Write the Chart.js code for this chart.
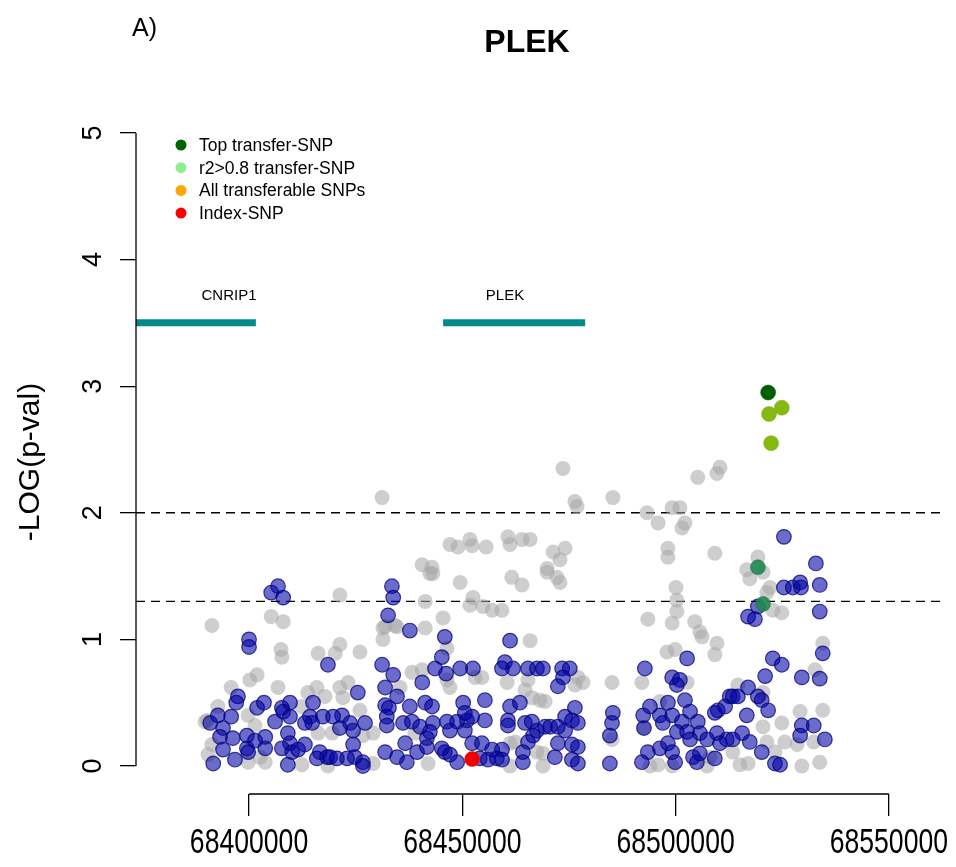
<!DOCTYPE html>
<html>
<head>
<meta charset="utf-8">
<title>PLEK</title>
<script src="https://cdn.jsdelivr.net/npm/chart.js@4.4.1/dist/chart.umd.min.js"></script>
<style>
  body { margin: 0; background: #fff; }
  canvas { display: block; }
</style>
</head>
<body>
<canvas id="plot" width="956" height="867"></canvas>
<script>
// ---- data (positions in kb, values are -log10 p) ----
const graySnps = [
  [68391.3,1.11],[68405.2,1.18],[68408.0,1.14],[68407.5,0.92],[68407.7,0.86],[68416.2,0.89],
  [68400.2,0.68],[68401.9,0.72],[68395.8,0.62],[68406.8,0.62],[68413.8,0.58],[68415.9,0.62],
  [68417.8,0.55],[68389.7,0.35],[68392.7,0.47],[68399.8,0.40],[68401.4,0.32],[68412.4,0.47],
  [68391.3,0.17],[68390.4,0.09],[68402.6,0.07],[68399.8,0.03],[68403.8,0.03],[68412.4,0.01],
  [68416.2,0.26],[68418.5,0.00],[68390.2,0.36],
  [68421.3,1.35],[68441.3,1.30],[68431.4,1.09],[68434.7,1.10],[68431.4,1.00],[68441.3,1.09],
  [68445.5,1.17],[68421.3,0.96],[68420.2,0.89],[68426.0,0.90],[68446.4,0.93],[68449.5,1.45],
  [68442.4,1.52],[68438.2,0.74],[68440.6,0.76],[68446.4,0.68],[68447.1,0.62],[68421.3,0.62],
  [68423.2,0.66],[68422.0,0.54],[68435.4,0.62],[68426.0,0.44],[68429.1,0.26],[68438.9,0.26],
  [68426.7,0.24],[68419.5,0.26],[68429.1,0.02],[68442.0,0.02],
  [68431.2,2.12],[68473.6,2.35],[68476.4,2.09],[68476.9,2.05],[68485.3,2.12],
  [68447.1,1.75],[68449.0,1.73],[68451.8,1.79],[68452.3,1.74],[68455.6,1.73],[68460.7,1.81],
  [68461.2,1.75],[68464.0,1.79],[68465.9,1.79],[68471.3,1.69],[68474.1,1.72],[68472.9,1.63],
  [68440.6,1.59],[68442.9,1.57],[68443.1,1.52],[68461.6,1.49],[68464.0,1.43],[68469.9,1.56],
  [68472.2,1.49],[68472.9,1.45],[68452.5,1.33],[68451.8,1.27],[68454.8,1.26],[68457.0,1.23],
  [68459.3,1.23],[68431.9,1.10],[68434.2,1.11],[68469.9,1.53],
  [68465.9,0.99],[68453.0,0.70],[68454.6,0.70],[68460.5,0.66],[68465.4,0.68],[68464.7,0.60],
  [68466.3,0.54],[68468.2,0.52],[68469.4,0.51],[68476.4,0.64],[68477.1,0.70],[68461.2,0.18],
  [68462.4,0.19],[68467.5,0.11],[68468.9,0.10],[68468.9,0.00],[68461.2,0.00],[68478.3,0.66],
  [68500.1,1.41],[68500.3,1.31],[68500.3,1.22],[68499.2,1.13],[68493.5,1.16],[68504.5,1.14],
  [68505.7,1.06],[68506.2,1.02],[68509.7,0.97],[68509.2,0.88],[68498.0,0.90],[68499.9,0.92],
  [68485.1,0.66],[68492.1,0.66],[68502.7,0.66],[68496.3,0.51],[68492.4,0.30],[68494.0,0.00],
  [68495.9,0.01],[68499.2,0.00],[68508.1,0.07],[68507.4,0.00],[68485.1,0.21],
  [68493.3,2.00],[68495.9,1.92],[68499.2,2.04],[68501.0,2.04],[68502.2,1.92],[68501.5,1.88],
  [68498.2,1.72],[68498.2,1.65],[68509.2,1.68],[68505.2,2.28],[68509.7,2.31],[68510.4,2.36],
  [68519.3,1.65],[68516.7,1.55],[68517.4,1.48],[68520.5,1.53],[68522.1,1.41],[68521.4,1.37],
  [68522.8,1.23],[68524.9,1.21],[68534.5,0.97],[68532.7,0.76],[68514.6,0.64],[68520.5,0.58],
  [68529.2,0.43],[68534.5,0.44],[68524.9,0.34],[68520.5,0.31],[68525.6,0.19],[68528.5,0.17],
  [68521.4,0.19],[68532.4,0.19],[68513.4,0.11],[68523.3,0.11],[68515.1,0.01],[68517.0,0.02],
  [68529.6,0.00],[68533.8,0.03]
];

const navySnps = [
  [68405.2,1.37],[68406.8,1.42],[68408.0,1.33],[68400.0,1.00],[68400.0,0.94],[68418.5,0.80],
  [68397.4,0.55],[68397.0,0.50],[68401.9,0.46],[68403.5,0.50],[68407.7,0.46],[68409.6,0.50],
  [68415.0,0.50],[68390.9,0.34],[68392.7,0.40],[68395.8,0.39],[68393.9,0.30],[68393.2,0.23],
  [68396.2,0.22],[68399.5,0.24],[68401.4,0.20],[68403.8,0.23],[68403.8,0.14],[68399.5,0.14],
  [68399.8,0.11],[68393.9,0.13],[68396.7,0.05],[68391.6,0.02],[68406.1,0.35],[68408.0,0.43],
  [68409.6,0.39],[68409.1,0.26],[68409.6,0.18],[68407.7,0.14],[68410.1,0.11],[68413.1,0.17],
  [68411.5,0.13],[68409.1,0.01],[68414.3,0.39],[68417.3,0.39],[68414.8,0.34],[68413.1,0.34],
  [68416.6,0.11],[68415.9,0.06],[68418.3,0.07],
  [68433.5,1.42],[68433.8,1.33],[68432.6,1.19],[68437.7,1.07],[68445.9,1.02],[68431.2,0.80],
  [68433.8,0.72],[68440.6,0.66],[68445.2,0.86],[68443.6,0.77],[68446.2,0.73],[68449.5,0.77],
  [68431.9,0.62],[68425.5,0.58],[68434.7,0.55],[68441.3,0.50],[68450.2,0.50],[68431.9,0.48],
  [68432.8,0.46],[68437.7,0.47],[68442.9,0.47],[68421.8,0.40],[68419.7,0.39],[68423.7,0.34],
  [68427.2,0.34],[68421.3,0.30],[68424.4,0.28],[68432.3,0.39],[68432.3,0.32],[68436.1,0.34],
  [68438.2,0.35],[68440.1,0.31],[68443.1,0.34],[68446.4,0.35],[68448.8,0.35],[68451.1,0.36],
  [68441.7,0.22],[68442.4,0.27],[68447.1,0.28],[68436.6,0.18],[68424.4,0.17],[68431.9,0.11],
  [68434.7,0.07],[68437.0,0.03],[68439.4,0.11],[68445.9,0.11],[68447.1,0.09],[68448.8,0.03],
  [68420.6,0.06],[68423.0,0.06],[68424.8,0.07],[68426.7,0.03],[68426.7,0.00],[68419.0,0.07],
  [68441.7,0.15],[68445.2,0.14],
  [68461.2,0.99],[68452.5,0.77],[68460.0,0.82],[68459.3,0.77],[68461.9,0.77],[68465.4,0.77],
  [68467.5,0.77],[68468.9,0.77],[68473.4,0.77],[68475.2,0.77],[68473.6,0.70],[68472.4,0.63],
  [68455.3,0.52],[68461.2,0.47],[68463.5,0.50],[68452.3,0.39],[68455.3,0.36],[68460.7,0.36],
  [68460.7,0.32],[68464.7,0.34],[68466.3,0.35],[68467.5,0.28],[68469.4,0.31],[68470.6,0.31],
  [68472.4,0.31],[68474.1,0.39],[68476.4,0.46],[68475.7,0.36],[68477.1,0.34],[68474.1,0.28],
  [68466.6,0.24],[68465.4,0.19],[68472.4,0.18],[68475.7,0.17],[68477.1,0.15],[68452.3,0.18],
  [68454.6,0.18],[68457.0,0.13],[68459.3,0.13],[68454.1,0.06],[68456.0,0.05],[68458.1,0.06],
  [68459.3,0.05],[68464.2,0.11],[68464.2,0.03],[68471.7,0.07],[68475.7,0.05],[68477.1,0.02],
  [68450.6,0.28],[68450.6,0.42],
  [68502.7,0.85],[68492.8,0.77],[68499.2,0.70],[68500.3,0.64],[68501.0,0.68],[68485.3,0.42],
  [68485.1,0.34],[68484.6,0.24],[68484.6,0.02],[68492.4,0.40],[68494.0,0.47],[68498.2,0.50],
  [68502.2,0.52],[68496.3,0.40],[68499.2,0.40],[68497.0,0.34],[68501.5,0.35],[68503.4,0.43],
  [68505.2,0.35],[68492.6,0.30],[68500.3,0.27],[68502.7,0.27],[68505.7,0.26],[68503.4,0.21],
  [68509.9,0.44],[68509.2,0.42],[68509.7,0.26],[68507.4,0.21],[68493.5,0.11],[68492.1,0.03],
  [68496.3,0.14],[68498.2,0.18],[68499.2,0.11],[68499.9,0.03],[68504.1,0.07],[68505.0,0.03],
  [68505.7,0.10],[68509.2,0.06],[68510.4,0.18],[68512.0,0.21],[68512.7,0.55],
  [68525.4,1.81],[68532.9,1.60],[68525.4,1.41],[68527.5,1.41],[68529.2,1.45],[68529.4,1.41],
  [68533.8,1.43],[68533.8,1.22],[68517.0,1.18],[68518.6,1.16],[68519.3,1.26],[68522.8,0.85],
  [68524.9,0.80],[68534.5,0.89],[68521.0,0.71],[68529.6,0.70],[68533.8,0.69],[68517.0,0.62],
  [68513.4,0.55],[68514.6,0.55],[68519.3,0.55],[68520.2,0.52],[68521.7,0.44],[68516.7,0.40],
  [68511.6,0.47],[68529.6,0.32],[68532.4,0.32],[68529.2,0.24],[68535.0,0.21],[68515.6,0.26],
  [68513.4,0.21],[68517.4,0.19],[68520.2,0.11],[68523.3,0.02],[68524.5,0.01]
];

const ldSnps = [[68519.3,1.57],[68520.5,1.28]];
const r2Snps = [[68521.9,2.78],[68524.9,2.83],[68522.4,2.55]];
const topSnp = [[68521.7,2.95]];
const indexSnp = [[68452.3,0.055]];

const geneNames = ['CNRIP1', 'PLEK'];
const geneStart = [68360.0, 68445.5];
const geneEnd = [68401.6, 68478.8];
const geneLabelAt = [68395.3, 68460.0];
const geneLevel = 3.5;

const thresholds = [2, 1.3];
const xTicks = [68400000, 68450000, 68500000, 68550000];
const yTicks = [0, 1, 2, 3, 4, 5];
const xMin = 68373500, xMax = 68563400;

const legendLabels = ['Top transfer-SNP', 'r2>0.8 transfer-SNP', 'All transferable SNPs', 'Index-SNP'];
const legendColors = ['#006400', '#90EE90', '#FFA500', '#FF0000'];

// ---- helpers ----
const toXY = arr => arr.map(p => ({ x: p[0] * 1000, y: p[1] }));
const FONT = '"Liberation Sans", Arial, Helvetica, sans-serif';

const pointSet = (label, arr, fill, stroke, bw, r, order) => ({
  type: 'scatter', label: label, data: toXY(arr), order: order,
  backgroundColor: fill, borderColor: stroke, borderWidth: bw,
  pointRadius: r, pointHoverRadius: r
});

const datasets = [
  pointSet('index', indexSnp, '#F00000', '#E00000', 0.5, 7.5, 0),
  pointSet('top', topSnp, '#006000', '#005000', 0.5, 7.5, 1),
  pointSet('r2', r2Snps, '#86B812', '#7EAE10', 0.5, 7.5, 2),
  pointSet('ld', ldSnps, 'rgba(30,135,80,0.9)', 'rgba(20,110,60,0.9)', 0.5, 7.5, 3),
  pointSet('navy', navySnps, 'rgba(0,0,165,0.58)', 'rgba(0,0,120,0.75)', 1.2, 7.3, 4),
  pointSet('gray', graySnps, 'rgba(165,165,165,0.55)', 'rgba(0,0,0,0)', 0, 7.5, 5)
];

geneNames.forEach((g, i) => {
  datasets.push({
    type: 'line', label: g, order: 6, clip: 0,
    data: [{ x: geneStart[i] * 1000, y: geneLevel }, { x: geneEnd[i] * 1000, y: geneLevel }],
    borderColor: '#008B8B', borderWidth: 7, borderCapStyle: 'butt',
    pointRadius: 0, fill: false
  });
});

thresholds.forEach(t => {
  datasets.push({
    type: 'line', label: 'p' + t, order: 7, clip: 0,
    data: [{ x: xMin, y: t }, { x: xMax, y: t }],
    borderColor: '#000', borderWidth: 1.4, borderDash: [9, 6],
    pointRadius: 0, fill: false
  });
});

// text, legend and axis lines drawn on top through the scales
const decor = {
  id: 'decor',
  afterDraw(chart) {
    const { ctx, scales: { x, y } } = chart;
    ctx.save();
    ctx.fillStyle = '#000';
    ctx.strokeStyle = '#000';
    ctx.lineWidth = 1.3;

    // axis lines limited to the tick range, like base R
    ctx.beginPath();
    ctx.moveTo(y.right, y.getPixelForValue(yTicks[0]));
    ctx.lineTo(y.right, y.getPixelForValue(yTicks[yTicks.length - 1]));
    ctx.moveTo(x.getPixelForValue(xTicks[0]), x.top);
    ctx.lineTo(x.getPixelForValue(xTicks[xTicks.length - 1]), x.top);
    ctx.stroke();

    // y tick labels, rotated
    ctx.font = '27px ' + FONT;
    ctx.textAlign = 'center';
    ctx.textBaseline = 'middle';
    yTicks.forEach(v => {
      ctx.save();
      ctx.translate(94, y.getPixelForValue(v));
      ctx.rotate(-Math.PI / 2);
      ctx.fillText(String(v), 0, 0);
      ctx.restore();
    });

    // x tick labels (narrow, as in the original)
    ctx.font = '35px ' + FONT;
    xTicks.forEach(v => {
      ctx.save();
      ctx.translate(x.getPixelForValue(v), 843);
      ctx.scale(0.76, 1);
      ctx.fillText(String(v), 0, 0);
      ctx.restore();
    });

    // y title
    ctx.save();
    ctx.translate(31, 462);
    ctx.rotate(-Math.PI / 2);
    ctx.font = '30px ' + FONT;
    ctx.fillText('-LOG(p-val)', 0, 0);
    ctx.restore();

    // title and panel letter
    ctx.font = 'bold 32px ' + FONT;
    ctx.fillText('PLEK', 527, 43);
    ctx.textAlign = 'left';
    ctx.font = '25px ' + FONT;
    ctx.fillText('A)', 132, 29);

    // gene labels
    ctx.textAlign = 'center';
    ctx.font = '15px ' + FONT;
    geneNames.forEach((g, i) => {
      ctx.fillText(g, x.getPixelForValue(geneLabelAt[i] * 1000), y.getPixelForValue(geneLevel) - 27);
    });

    // legend
    ctx.textAlign = 'left';
    ctx.font = '17.5px ' + FONT;
    legendLabels.forEach((lab, i) => {
      const cy = 145 + i * 22.7;
      ctx.beginPath();
      ctx.arc(181, cy, 5.5, 0, Math.PI * 2);
      ctx.fillStyle = legendColors[i];
      ctx.fill();
      ctx.fillStyle = '#000';
      ctx.fillText(lab, 199, cy + 1);
    });
    ctx.restore();
  }
};

new Chart(document.getElementById('plot'), {
  type: 'scatter',
  data: { datasets: datasets },
  options: {
    responsive: false,
    animation: false,
    events: [],
    layout: { padding: { top: 108, right: 10, left: 0, bottom: 0 } },
    plugins: { legend: { display: false }, tooltip: { enabled: false }, title: { display: false } },
    scales: {
      x: {
        type: 'linear', min: xMin, max: xMax,
        afterBuildTicks: s => { s.ticks = xTicks.map(v => ({ value: v })); },
        afterFit: s => { s.height = 73; s.paddingLeft = 0; s.paddingRight = 0; },
        grid: { drawOnChartArea: false, tickLength: 22, color: '#000', lineWidth: 1.3 },
        border: { display: false },
        ticks: { display: false }
      },
      y: {
        type: 'linear', min: -0.221, max: 5.197,
        afterBuildTicks: s => { s.ticks = yTicks.map(v => ({ value: v })); },
        afterFit: s => { s.width = 136; s.paddingTop = 0; s.paddingBottom = 0; },
        grid: { drawOnChartArea: false, tickLength: 16, color: '#000', lineWidth: 1.3 },
        border: { display: false },
        ticks: { display: false }
      }
    }
  },
  plugins: [decor]
});
</script>
</body>
</html>
